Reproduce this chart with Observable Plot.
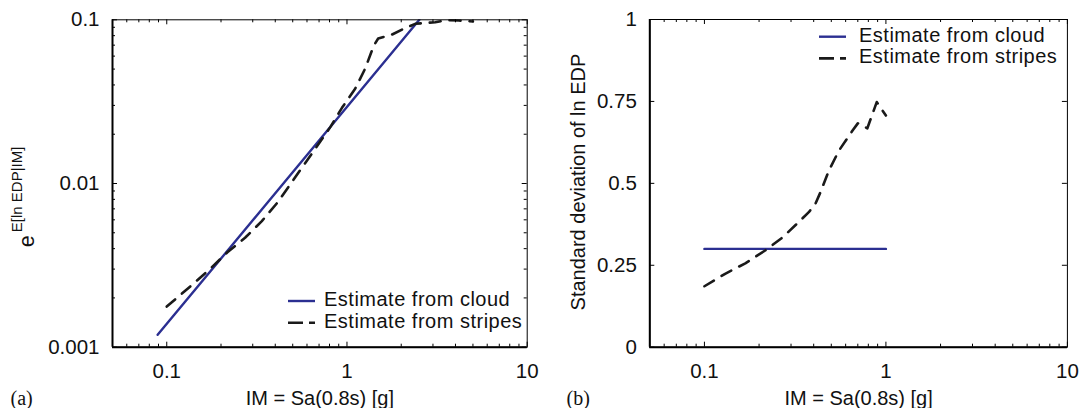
<!DOCTYPE html>
<html><head><meta charset="utf-8">
<script src="https://cdn.jsdelivr.net/npm/d3@7"></script>
<script src="https://cdn.jsdelivr.net/npm/@observablehq/plot@0.6"></script>
<style>
body{margin:0;background:#fff;}
#wrap{position:relative;width:1080px;height:408px;display:flex;font-family:"Liberation Sans",Arial,sans-serif;}
.panel{position:relative;width:540px;height:408px;}
.legend{position:absolute;left:0;top:0;pointer-events:none;overflow:visible;}
</style></head><body>
<div id="wrap"><div class="panel" id="pa"></div><div class="panel" id="pb"></div></div>
<script>
// ---- tick labels / domains ----
const imDomain = [0.05, 10];
const imTicks = [0.1, 1, 10];
const imMinor = [0.06,0.07,0.08,0.09,0.2,0.3,0.4,0.5,0.6,0.7,0.8,0.9,2,3,4,5,6,7,8,9];
const edpDomain = [0.001, 0.1];
const edpTicks = [0.001, 0.01, 0.1];
const edpMinor = [0.002,0.003,0.004,0.005,0.006,0.007,0.008,0.009,0.02,0.03,0.04,0.05,0.06,0.07,0.08,0.09];
const sdDomain = [0, 1];
const sdTicks = [0, 0.25, 0.5, 0.75, 1];

const seriesNames = ["Estimate from cloud", "Estimate from stripes"];
const xTitle = "IM = Sa(0.8s) [g]";
const yTitleA = ["e", "E[ln EDP|IM]"];
const yTitleB = "Standard deviation of ln EDP";
const panelTags = ["(a)", "(b)"];

// ---- panel (a): median EDP given IM ----
const cloudMedianIM  = [0.089, 2.52];
const cloudMedianEDP = [0.00119, 0.1];
const stripesMedianIM  = [0.1, 0.138, 0.174, 0.217, 0.272, 0.337, 0.409, 0.484, 0.574, 0.667, 0.808, 0.938, 1.11, 1.26, 1.41, 1.49, 1.78, 2.06, 2.39, 3.09, 3.6, 4.17, 5.0];
const stripesMedianEDP = [0.00177, 0.0024, 0.00301, 0.0038, 0.00466, 0.00589, 0.00759, 0.00986, 0.0129, 0.0163, 0.0221, 0.029, 0.0379, 0.0502, 0.0697, 0.0769, 0.0813, 0.0881, 0.0945, 0.0967, 0.0997, 0.099, 0.0976];

// ---- panel (b): dispersion ----
const cloudSdIM  = [0.1, 1.0];
const cloudSdVal = [0.3, 0.3];
const stripesSdIM  = [0.1, 0.13, 0.168, 0.216, 0.271, 0.338, 0.376, 0.409, 0.436, 0.485, 0.551, 0.655, 0.70, 0.79, 0.89, 1.0];
const stripesSdVal = [0.186, 0.224, 0.256, 0.295, 0.336, 0.387, 0.412, 0.438, 0.473, 0.539, 0.600, 0.661, 0.683, 0.668, 0.748, 0.707];

const BLUE = "#2b2f91", DARK = "#1a1a1a", INK = "#111";
const zipXY = (xs, ys) => xs.map((x, i) => ({x, y: ys[i]}));
const fmt = d => String(d);

function makePanel({m, yType, yDomain, yTicks, yMinor, cloud, stripes, titleMarks, tag, tagDx}) {
  const W = 540, H = 408;
  const fh = H - m.top - m.bottom, fw = W - m.left - m.right;
  const marks = [
    Plot.line(cloud, {x: "x", y: "y", stroke: BLUE, strokeWidth: 2.4, clip: true}),
    Plot.line(stripes, {x: "x", y: "y", stroke: DARK, strokeWidth: 2.6, strokeDasharray: "11,9", clip: true}),
    // minor / major x ticks (inward, bottom & top)
    Plot.ruleX(imMinor, {x: d => d, insetTop: fh - 3, stroke: "#000", strokeWidth: 1}),
    Plot.ruleX(imMinor, {x: d => d, insetBottom: fh - 3, stroke: "#000", strokeWidth: 1}),
    Plot.ruleX(imTicks, {x: d => d, insetTop: fh - 5, stroke: "#000", strokeWidth: 1}),
    Plot.ruleX(imTicks, {x: d => d, insetBottom: fh - 5, stroke: "#000", strokeWidth: 1}),
    Plot.ruleY(yTicks, {y: d => d, insetRight: fw - 5, stroke: "#000", strokeWidth: 1}),
    Plot.ruleY(yTicks, {y: d => d, insetLeft: fw - 5, stroke: "#000", strokeWidth: 1}),
    Plot.frame({stroke: "#000", strokeWidth: 1}),
    Plot.ruleX([imDomain[0]], {stroke: "#000", strokeWidth: 2}),
    Plot.ruleY([yDomain[0]], {stroke: "#000", strokeWidth: 2}),
    Plot.axisX(imTicks, {tickSize: 0, tickPadding: 16, fontSize: 20.5, tickFormat: fmt, label: null, fill: INK}),
    Plot.axisY(yTicks, {tickSize: 0, tickPadding: 13, fontSize: 20.5, tickFormat: fmt, label: null, fill: INK}),
    Plot.text([xTitle], {text: d => d, frameAnchor: "bottom", dy: 57.3, lineAnchor: "bottom", fontSize: 20, fill: INK, ariaLabel: "title"}),
    Plot.text([tag], {text: d => d, frameAnchor: "bottom-left", dx: tagDx, dy: 57.8, textAnchor: "start", lineAnchor: "bottom", fontSize: 20, fontFamily: "Liberation Serif, Times New Roman, serif", fill: INK}),
    ...titleMarks
  ];
  if (yMinor) {
    marks.push(Plot.ruleY(yMinor, {y: d => d, insetRight: fw - 3, stroke: "#000", strokeWidth: 1}));
    marks.push(Plot.ruleY(yMinor, {y: d => d, insetLeft: fw - 3, stroke: "#000", strokeWidth: 1}));
  }
  const svg = Plot.plot({
    width: W, height: H,
    marginLeft: m.left, marginRight: m.right, marginTop: m.top, marginBottom: m.bottom,
    style: {fontFamily: "Liberation Sans, Arial, sans-serif", fontSize: "20px", background: "white", color: INK},
    x: {type: "log", domain: imDomain},
    y: {type: yType, domain: yDomain},
    marks
  });
  d3.select(svg).selectAll('g[aria-label="title"] text').style("letter-spacing", "0.5px");
  return svg;
}

function legend(container, pos) {
  const s = d3.select(container).append("svg").attr("class", "legend").attr("width", 540).attr("height", 408);
  const styles = [{stroke: BLUE, dash: null, w: 2.4}, {stroke: DARK, dash: "15,6", w: 2.6}];
  seriesNames.forEach((name, i) => {
    const ly = pos.y + i * 21.7;
    s.append("line").attr("x1", pos.x1).attr("x2", pos.x2).attr("y1", ly).attr("y2", ly)
      .attr("stroke", styles[i].stroke).attr("stroke-width", styles[i].w)
      .attr("stroke-dasharray", styles[i].dash);
    s.append("text").attr("x", pos.tx).attr("y", ly + 5).text(name)
      .attr("font-size", 20).attr("fill", INK).style("letter-spacing", "0.5px")
      .attr("font-family", "Liberation Sans, Arial, sans-serif");
  });
}

// Panel (a)
const mA = {left: 112, right: 13.3, top: 19.3, bottom: 61.3};
const titleA = [
  Plot.text([yTitleA[0]], {text: d => d, frameAnchor: "left", dx: 33.3 - 112, dy: 246.7 - 183, rotate: -90, textAnchor: "start", lineAnchor: "bottom", fontSize: 21.5, fill: INK}),
  Plot.text([yTitleA[1]], {text: d => d, frameAnchor: "left", dx: 21.7 - 112, dy: 231.7 - 183, rotate: -90, textAnchor: "start", lineAnchor: "bottom", fontSize: 15, fill: INK})
];
const svgA = makePanel({m: mA, yType: "log", yDomain: edpDomain, yTicks: edpTicks, yMinor: edpMinor,
  cloud: zipXY(cloudMedianIM, cloudMedianEDP), stripes: zipXY(stripesMedianIM, stripesMedianEDP),
  titleMarks: titleA, tag: panelTags[0], tagDx: 10 - 112});
document.getElementById("pa").appendChild(svgA);
legend(document.getElementById("pa"), {x1: 288, x2: 315, tx: 324, y: 301});

// Panel (b)
const mB = {left: 109.3, right: 13.1, top: 19, bottom: 61.3};
const titleB = [
  Plot.text([yTitleB], {text: d => d, frameAnchor: "left", dx: -64.5, dy: -1.3, rotate: -90, textAnchor: "middle", lineAnchor: "bottom", fontSize: 20, fill: INK, ariaLabel: "title"})
];
const svgB = makePanel({m: mB, yType: "linear", yDomain: sdDomain, yTicks: sdTicks, yMinor: null,
  cloud: zipXY(cloudSdIM, cloudSdVal), stripes: zipXY(stripesSdIM, stripesSdVal),
  titleMarks: titleB, tag: panelTags[1], tagDx: 26 - 109.3});
document.getElementById("pb").appendChild(svgB);
legend(document.getElementById("pb"), {x1: 279, x2: 306, tx: 319, y: 36.7});
</script>
</body></html>
